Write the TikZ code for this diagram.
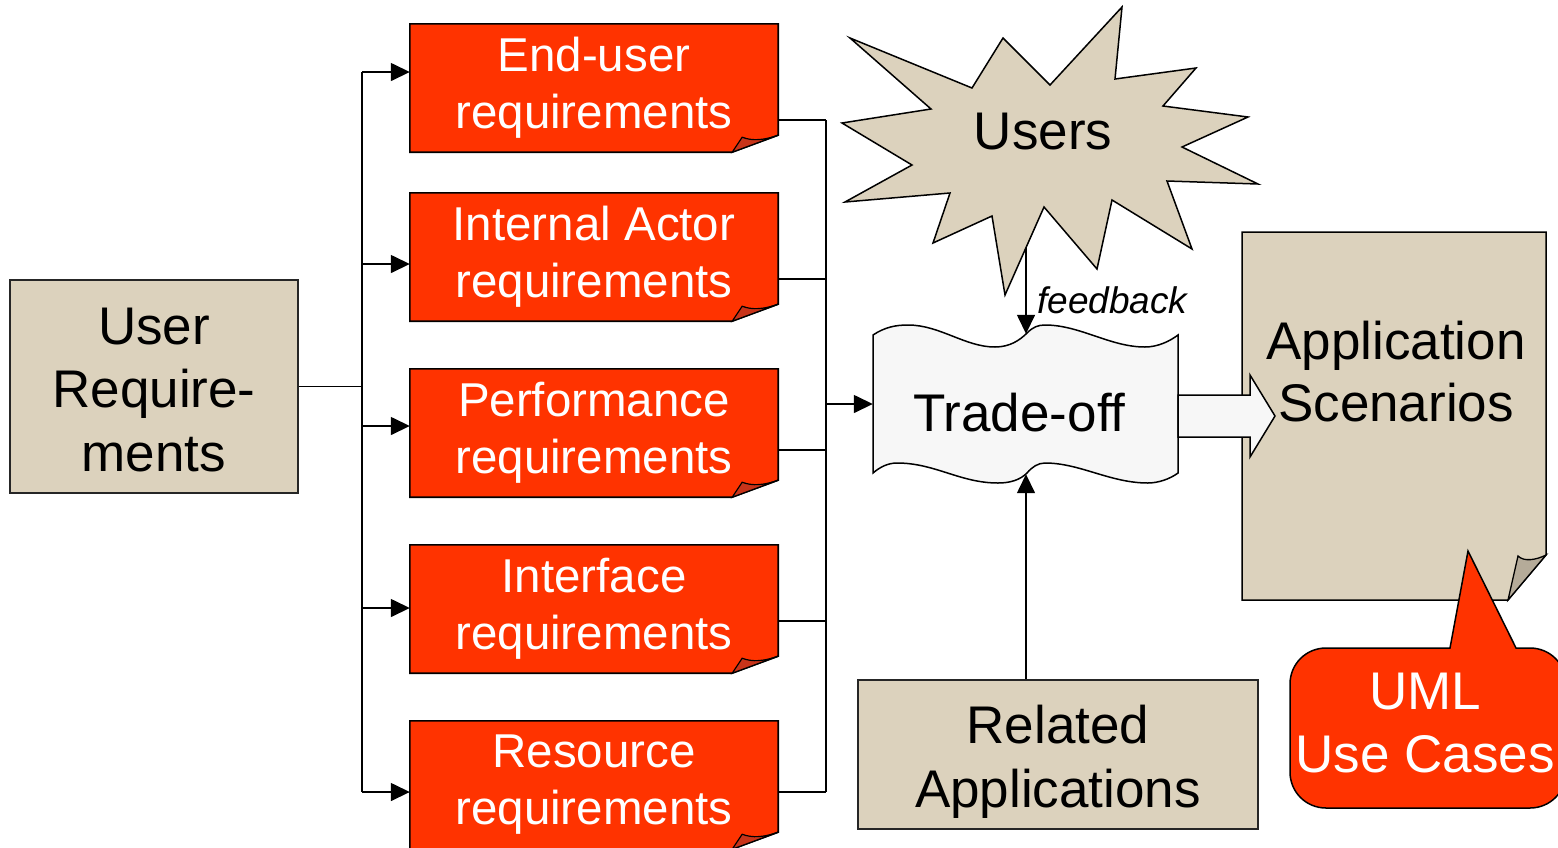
\documentclass[tikz,border=0pt]{standalone}
\usepackage{fontspec}
\setmainfont{Liberation Sans}
\usetikzlibrary{arrows.meta,backgrounds}

\definecolor{reqred}{HTML}{FF3300}
\definecolor{reqfold}{HTML}{C8341A}
\definecolor{tan}{HTML}{DCD2BD}
\definecolor{tanfold}{HTML}{B5AB99}
\definecolor{paper}{HTML}{F7F7F7}

\tikzset{
  outline/.style={draw=black,line width=1.6pt,line join=miter},
  conn/.style={draw=black,line width=1.5pt},
  tip/.style={-{Triangle[length=19pt,width=18pt]}},
  reqbox/.style={minimum width=368pt,minimum height=128pt,inner sep=0pt,
    align=center,text=white,font=\fontsize{47.5}{57}\selectfont},
  bigtext/.style={align=center,inner sep=0pt,font=\fontsize{53}{63.5}\selectfont},
  tanbox/.style={fill=tan,draw=black!85,line width=1.5pt,inner sep=0pt},
}

% red requirement sheet with a curled lower right corner, drawn behind node #1
\newcommand{\reqsheet}[1]{%
  \path[outline,fill=reqred] (#1.north west) -- (#1.north east)
    -- ([yshift=17pt]#1.south east) -- ([xshift=-46pt]#1.south east)
    -- (#1.south west) -- cycle;
  \path[outline,fill=reqfold,line width=1.2pt] ([xshift=-46pt]#1.south east)
    -- ([xshift=-36pt,yshift=15pt]#1.south east)
    .. controls ([xshift=-26pt,yshift=11pt]#1.south east)
    and ([xshift=-14pt,yshift=12pt]#1.south east) .. ([yshift=17pt]#1.south east)
    -- cycle;
}

\begin{document}
\begin{tikzpicture}[x=1pt,y=-1pt]
\useasboundingbox (0,0) rectangle (1558,847);

% ---------- nodes ----------
\node[tanbox,minimum width=288pt,minimum height=213pt] (ur) at (154,386.5) {};
\node[bigtext] (urtext) at (154,390) {User\\Require-\\ments};

\node[reqbox] (e1) at (594,88)  {End-user\\requirements};
\node[reqbox] (e2) at (594,257) {Internal Actor\\requirements};
\node[reqbox] (e3) at (594,433) {Performance\\requirements};
\node[reqbox] (e4) at (594,609) {Interface\\requirements};
\node[reqbox] (e5) at (594,785) {Resource\\requirements};

\node[bigtext] (users) at (1043,132) {Users};

\node[inner sep=0pt,minimum width=305pt,minimum height=140pt,
  text height=54pt,text depth=0pt,font=\fontsize{53}{63.5}\selectfont]
  (trade) at (1025.5,404) {\kern-12pt Trade-off};

\node[anchor=west,inner sep=0pt,font=\fontsize{37}{44}\selectfont\itshape]
  (fb) at (1037,300) {feedback};

\node[inner sep=0pt,minimum width=304pt,minimum height=368pt] (app) at (1394,416) {};
\node[bigtext,font=\fontsize{53}{62}\selectfont] (apptext) at (1396,372)
  {Application\\Scenarios};

\node[bigtext,text=white] (uml) at (1425,723) {UML\\Use Cases};

\node[tanbox,minimum width=400pt,minimum height=149pt] (rel) at (1058,754.5) {};
\node[bigtext] (reltext) at (1058,762) {Related\\Applications};

% ---------- shapes behind the text ----------
\begin{pgfonlayer}{background}
  \clip (0,0) rectangle (1558,847);
  % explosion behind "Users"
  \path[outline,fill=tan,line width=1.5pt]
    (850,38) -- (972,88) -- (1003,38) -- (1050,85) -- (1122,7) -- (1115,79)
    -- (1196,68) -- (1163,106) -- (1248,117) -- (1182,147) -- (1258,184)
    -- (1167,181) -- (1192,249) -- (1112,200) -- (1097,269) -- (1044,207)
    -- (1005,295) -- (992,216) -- (933,243) -- (950,193) -- (845,202)
    -- (912,165) -- (842,123) -- (931,109) -- cycle;
  % wavy trade-off sheet
  \path[outline,fill=paper,line width=1.5pt]
    (873,335) .. controls (885,327) and (896,325) .. (908,325)
    .. controls (940,325) and (965,347) .. (995,347)
    .. controls (1010,347) and (1020,340) .. (1027,333)
    .. controls (1033,327) and (1038,325) .. (1045,325)
    .. controls (1080,325) and (1110,347) .. (1145,347)
    .. controls (1158,347) and (1170,341) .. (1178,335)
    -- (1178,473)
    .. controls (1170,479) and (1158,483) .. (1148,483)
    .. controls (1110,483) and (1080,463) .. (1045,463)
    .. controls (1038,463) and (1032,467) .. (1027,473)
    .. controls (1020,480) and (1010,483) .. (998,483)
    .. controls (960,483) and (935,463) .. (897,463)
    .. controls (888,463) and (880,467) .. (873,473)
    -- cycle;
  % application scenarios sheet with curled corner
  \path[outline,fill=tan,line width=1.5pt]
    (1242,232) -- (1546,232) -- (1546,555) -- (1508,600) -- (1242,600) -- cycle;
  \path[outline,fill=tanfold,line width=1.3pt]
    (1508,600) -- (1518,556) .. controls (1524,562) and (1536,560) .. (1546,555) -- cycle;
  % block arrow from the trade-off into the scenarios
  \path[outline,fill=paper,line width=1.5pt]
    (1178,395) -- (1250,395) -- (1250,375) -- (1275,416) -- (1250,457)
    -- (1250,437) -- (1178,437) -- cycle;
  % speech bubble
  \path[outline,fill=reqred,line width=1.5pt]
    (1326,648) -- (1450,648) -- (1468,551) -- (1516,648) -- (1530,648)
    .. controls (1550,648) and (1566,664) .. (1566,684) -- (1566,772)
    .. controls (1566,792) and (1550,808) .. (1530,808) -- (1326,808)
    .. controls (1306,808) and (1290,792) .. (1290,772) -- (1290,684)
    .. controls (1290,664) and (1306,648) .. (1326,648) -- cycle;
  % requirement sheets
  \reqsheet{e1}\reqsheet{e2}\reqsheet{e3}\reqsheet{e4}\reqsheet{e5}
\end{pgfonlayer}

% ---------- connectors ----------
\coordinate (ltop) at (362,72);
\coordinate (rtop) at (826,120);
\coordinate (ustem) at (1026,248);

\draw[conn] (ur.east) -- (ltop |- ur.east);
\foreach \n/\s in {e1/16,e2/-7,e3/7,e4/1,e5/-7}{
  \path ([yshift=\s pt]\n.west) coordinate (a\n);
}
\draw[conn] (ltop) -- (ltop |- ae5);
\foreach \n in {e1,e2,e3,e4,e5}{
  \draw[conn,tip] (ltop |- a\n) -- (a\n);
}

\foreach \n/\s in {e1/-32,e2/-22,e3/-17,e4/-12,e5/-7}{
  \path ([yshift=\s pt]\n.east) coordinate (b\n);
  \draw[conn] (b\n) -- (rtop |- b\n);
}
\draw[conn] (rtop) -- (rtop |- be5);
\draw[conn,tip] (rtop |- trade.west) -- (trade.west);

\draw[conn,tip] (ustem) -- (ustem |- trade.north);
\draw[conn,tip] (ustem |- rel.north) -- (ustem |- trade.south);
\end{tikzpicture}
\end{document}
